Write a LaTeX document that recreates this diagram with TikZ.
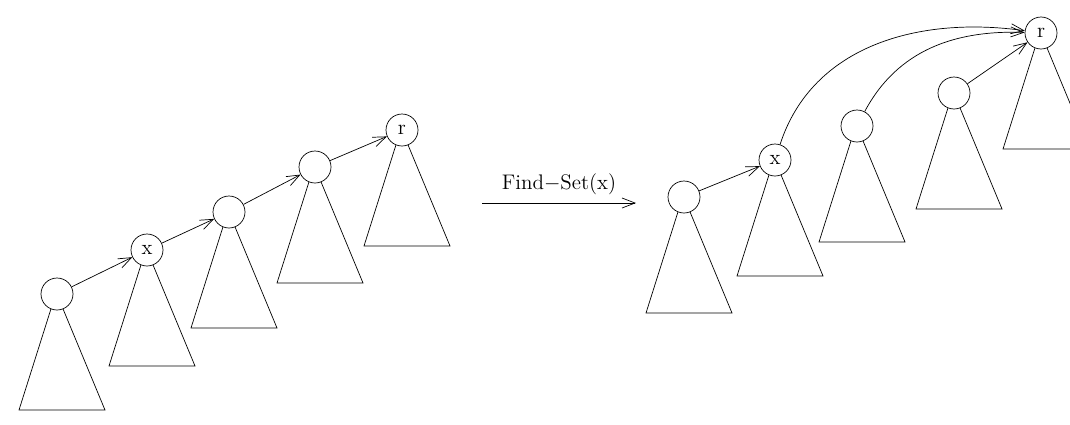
\documentclass[tikz,border=0pt]{standalone}
\usetikzlibrary{arrows.meta,calc}
\tikzset{
  treenode/.style={draw,circle,thin,minimum size=6.4mm,inner sep=0pt,font=\large},
  link/.style={thin,-{Straight Barb[length=2.6mm,width=2mm]}}
}
% draw the subtree below node #1
\newcommand{\subtree}[1]{%
  \draw[thin] (#1.-112) -- ($(#1)+(-0.76,-2.32)$) -- ($(#1)+(0.96,-2.32)$) -- (#1.-68);}

\begin{document}
\begin{tikzpicture}
    \clip (0,0) rectangle (21.4,-8.48);

    % before
    \node[treenode] (a1) at (1.14,-5.88) {};
    \node[treenode] (a2) at (2.94,-5.00) {x};
    \node[treenode] (a3) at (4.58,-4.24) {};
    \node[treenode] (a4) at (6.30,-3.34) {};
    \node[treenode] (a5) at (8.04,-2.60) {r};
    \foreach \i in {1,...,5} {\subtree{a\i}}
    \foreach \i/\j in {1/2,2/3,3/4,4/5} {\draw[link] (a\i) -- (a\j);}

    % operation
    \coordinate (opl) at (9.64,-4.06);
    \coordinate (opr) at (12.72,-4.06);
    \draw[link] (opl) -- (opr) node[midway,above=1pt] {\large Find$-$Set(x)};

    % after
    \node[treenode] (b1) at (13.68,-3.94) {};
    \node[treenode] (b2) at (15.50,-3.20) {x};
    \node[treenode] (b3) at (17.14,-2.52) {};
    \node[treenode] (b4) at (19.08,-1.86) {};
    \node[treenode] (b5) at (20.82,-0.66) {r};
    \foreach \i in {1,...,5} {\subtree{b\i}}
    \draw[link] (b1) -- (b2);
    \draw[link] (b2) to[out=72,in=172] (b5);
    \draw[link] (b3) to[out=62,in=178] (b5);
    \draw[link] (b4) -- (b5);
\end{tikzpicture}
\end{document}
